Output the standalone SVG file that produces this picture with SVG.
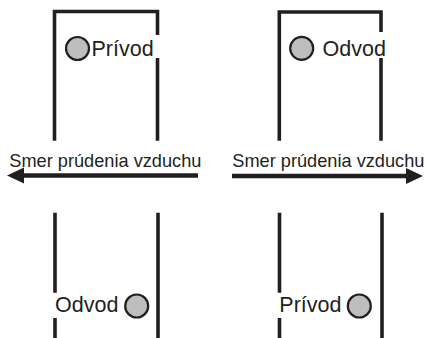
<svg xmlns="http://www.w3.org/2000/svg" width="427" height="338" viewBox="0 0 427 338">
  <defs>
    <style>
      .wall { fill: none; stroke: #231f20; stroke-width: 3.6; stroke-linecap: butt; stroke-linejoin: miter; }
      .port { fill: #bcbec0; stroke: #231f20; stroke-width: 2.2; }
      .lbl { font-family: "Liberation Sans", Arial, sans-serif; font-size: 21.5px; fill: #231f20; }
      .flow { font-family: "Liberation Sans", Arial, sans-serif; font-size: 18.2px; fill: #231f20; }
      .arrow { fill: none; stroke: #231f20; stroke-width: 4.3; marker-end: url(#head); }
    </style>
    <marker id="head" markerUnits="userSpaceOnUse" markerWidth="17" markerHeight="16" refX="2" refY="8" orient="auto" overflow="visible">
      <path d="M0,0 L17,8 L0,16 Z" fill="#231f20"/>
    </marker>
  </defs>
  <rect width="427" height="338" fill="#ffffff"/>

  <g id="box-top-left">
    <path class="wall" d="M54.5,140.7 V11.5 H157.5 V35 M157.5,58 V140.7"/>
    <circle class="port" cx="77.5" cy="48.5" r="11.5"/>
    <text class="lbl" x="91.5" y="55.5">Prívod</text>
  </g>

  <g id="box-top-right">
    <path class="wall" d="M279.3,140.7 V12 H381 V32 M381,58 V140.7"/>
    <circle class="port" cx="301.7" cy="48.3" r="11.5"/>
    <text class="lbl" x="322.5" y="55.5">Odvod</text>
  </g>

  <g id="box-bottom-left">
    <path class="wall" d="M55,212.7 V292.7 M55,318 V338 M158,212.7 V338"/>
    <circle class="port" cx="136.7" cy="306" r="11.5"/>
    <text class="lbl" x="55" y="312">Odvod</text>
  </g>

  <g id="box-bottom-right">
    <path class="wall" d="M279.5,212.7 V292.7 M279.5,318 V338 M382,212.7 V338"/>
    <circle class="port" cx="359.3" cy="306" r="11.5"/>
    <text class="lbl" x="279.3" y="312">Prívod</text>
  </g>

  <g id="connectors">
    <line class="arrow" x1="198" y1="175.5" x2="22" y2="175.5"/>
    <text class="flow" x="9.3" y="167">Smer prúdenia vzduchu</text>
    <line class="arrow" x1="232" y1="176" x2="408" y2="176"/>
    <text class="flow" x="232.3" y="166.7">Smer prúdenia vzduchu</text>
  </g>
</svg>
